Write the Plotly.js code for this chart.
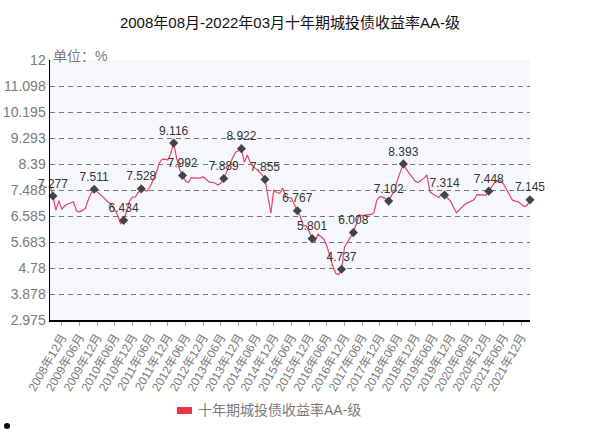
<!DOCTYPE html>
<html>
<head>
<meta charset="utf-8">
<script src="https://cdn.plot.ly/plotly-3.0.1.min.js"></script>
<style>
body { margin: 0; background: #fff; }
#chart { width: 610px; height: 436px; }
</style>
</head>
<body>
<div id="chart"></div>
<script>
// 十年期城投债收益率AA-级, 月度, 2008年08月 - 2022年03月
let startYear = 2008;
let startMonth = 8;
let rates = [
	7.65, 7.277, 6.78, 7.12, 6.82, 6.93, 7.0, 7.03, 7.08, 6.76,
	6.72, 6.78, 6.85, 7.15, 7.38, 7.511, 7.42, 7.36, 7.25, 7.14,
	7.04, 6.96, 6.80, 6.6, 6.32, 6.434, 6.75, 7.1, 7.24, 7.25,
	7.4, 7.528, 7.48, 7.45, 7.6, 7.85, 8.05, 8.39, 8.55, 8.56,
	8.53, 8.75, 9.116, 8.6, 8.2, 7.992, 7.8, 7.75, 7.92, 7.9,
	7.89, 7.9, 7.95, 7.86, 7.77, 7.75, 7.73, 7.66, 7.72, 7.889,
	8.1, 8.35, 8.6, 8.8, 8.85, 8.922, 8.45, 8.7, 8.45, 8.3,
	8.22, 8.12, 8.02, 7.855, 7.2, 6.68, 7.49, 7.4, 7.37, 7.55,
	7.28, 7.22, 7.2, 6.95, 6.767, 6.56, 6.27, 6.24, 6.05, 5.801,
	5.69, 5.96, 5.88, 5.78, 5.55, 5.2, 4.85, 4.6, 4.55, 4.737,
	5.5, 5.68, 5.85, 6.008, 6.3, 6.63, 6.6, 6.62, 6.62, 6.64,
	6.7, 7.14, 7.26, 7.24, 7.18, 7.102, 7.3, 7.45, 7.85, 8.1,
	8.393, 8.2, 8.08, 7.95, 7.8, 7.75, 7.82, 7.9, 8.01, 7.43,
	7.35, 7.3, 7.22, 7.35, 7.314, 7.22, 7.1, 6.9, 6.7, 6.8,
	6.9, 7.0, 7.05, 7.1, 7.15, 7.33, 7.33, 7.32, 7.3, 7.448,
	7.6, 7.75, 7.8, 7.81, 7.7, 7.5, 7.3, 7.14, 7.1, 7.08,
	7.0, 6.91, 6.95, 7.145
];
// points that carry a value label (index into rates)
let labelIdx = [1, 15, 25, 31, 42, 45, 59, 65, 73, 84, 89, 99, 103, 115, 120, 134, 149, 163];

let xTicks = [
	'2008年12月', '2009年06月', '2009年12月', '2010年06月', '2010年12月', '2011年06月',
	'2011年12月', '2012年06月', '2012年12月', '2013年06月', '2013年12月', '2014年06月',
	'2014年12月', '2015年06月', '2015年12月', '2016年06月', '2016年12月', '2017年06月',
	'2017年12月', '2018年06月', '2018年12月', '2019年06月', '2019年12月', '2020年06月',
	'2020年12月', '2021年06月', '2021年12月'
];
let yTickVals = [2.975, 3.8775, 4.78, 5.6825, 6.585, 7.4875, 8.39, 9.2925, 10.195, 11.0975, 12];
let yTickText = ['2.975', '3.878', '4.78', '5.683', '6.585', '7.488', '8.39', '9.293', '10.195', '11.098', '12'];

let months = [];
for (let i = 0; i < rates.length; i++) {
	let m = startMonth - 1 + i;
	let y = startYear + Math.floor(m / 12);
	let mm = (m % 12) + 1;
	months.push(y + '年' + (mm < 10 ? '0' + mm : mm) + '月');
}

let fontFam = '"Liberation Sans", Arial, "Noto Sans CJK SC", sans-serif';
let grey = '#7a7a7a';

let linea = {
	x: months,
	y: rates,
	type: 'scatter',
	mode: 'lines',
	line: { color: '#e8435f', width: 1.2 },
	hoverinfo: 'x+y',
	showlegend: false
};
let puntos = {
	x: labelIdx.map(i => months[i]),
	y: labelIdx.map(i => rates[i]),
	text: labelIdx.map(i => String(rates[i])),
	type: 'scatter',
	mode: 'markers+text',
	textposition: 'top center',
	textfont: { family: fontFam, size: 12, color: '#333' },
	marker: { symbol: 'diamond', size: 7, color: '#444' },
	cliponaxis: false,
	showlegend: false
};

let layout = {
	width: 610,
	height: 436,
	margin: { l: 50, r: 80, t: 60, b: 116 },
	paper_bgcolor: '#ffffff',
	plot_bgcolor: '#f7f8fd',
	font: { family: fontFam, color: grey },
	title: {
		text: '2008年08月-2022年03月十年期城投债收益率AA-级',
		font: { family: fontFam, size: 15, color: '#111' },
		x: 0.5, xref: 'paper', xanchor: 'center',
		y: 1 - 23 / 436, yanchor: 'middle'
	},
	xaxis: {
		type: 'category',
		categoryorder: 'array',
		categoryarray: months,
		range: [0, rates.length - 1],
		tickmode: 'array',
		tickvals: xTicks,
		ticktext: xTicks,
		tickangle: -60,
		tickfont: { size: 12, color: grey },
		ticks: 'outside',
		ticklen: 4,
		tickcolor: '#aaa',
		showgrid: false,
		showline: true,
		linecolor: '#000',
		linewidth: 1.5,
		zeroline: false,
		fixedrange: true
	},
	yaxis: {
		range: [2.975, 12],
		tickmode: 'array',
		tickvals: yTickVals,
		ticktext: yTickText,
		tickfont: { size: 14, color: grey },
		showgrid: true,
		gridcolor: '#777',
		griddash: '5px,4px',
		gridwidth: 1,
		showline: true,
		linecolor: '#000',
		linewidth: 1.5,
		zeroline: false,
		fixedrange: true
	},
	showlegend: false,
	annotations: [
		{
			text: '单位：%', xref: 'paper', yref: 'paper',
			x: 0.003, y: 1 + 4 / 260, xanchor: 'left', yanchor: 'middle',
			showarrow: false, font: { size: 14, color: grey }
		},
		{
			text: '十年期城投债收益率AA-级', xref: 'paper', yref: 'paper',
			x: (196 - 50) / 480, y: (320 - 410) / 260, xanchor: 'left', yanchor: 'middle',
			showarrow: false, font: { size: 14, color: grey }
		}
	],
	shapes: [
		{
			type: 'rect', xref: 'paper', yref: 'paper',
			x0: (177 - 50) / 480, x1: (192 - 50) / 480,
			y0: (320 - 407) / 260, y1: (320 - 414) / 260,
			fillcolor: '#f0334d', line: { width: 0 }
		},
		{
			type: 'circle', xref: 'paper', yref: 'paper',
			x0: (4 - 50) / 480, x1: (10 - 50) / 480,
			y0: (320 - 423) / 260, y1: (320 - 429) / 260,
			fillcolor: '#000', line: { width: 0 }
		}
	]
};

let contenedor = document.getElementById('chart');
Plotly.newPlot(contenedor, [linea, puntos], layout, { displayModeBar: false, staticPlot: true });
</script>
</body>
</html>
